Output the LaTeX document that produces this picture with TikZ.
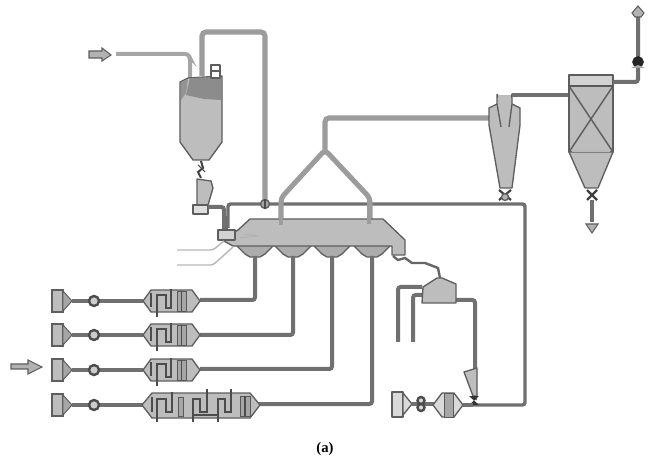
\documentclass[tikz,border=0pt]{standalone}
\usepackage{fontspec}
\setmainfont{Liberation Serif}
\definecolor{fillg}{HTML}{BDBDBD}
\definecolor{edgeg}{HTML}{5E5E5E}
\definecolor{pipeg}{HTML}{707070}
\definecolor{pipel}{HTML}{9C9C9C}
\tikzset{
  unit/.style={draw=edgeg,fill=fillg,line width=1pt,line join=round},
  pipe/.style={draw=pipeg,line width=3pt,rounded corners=2pt},
  pipethin/.style={draw=pipeg,line width=2.3pt,rounded corners=2pt},
  pipelight/.style={draw=pipel,line width=3.8pt,rounded corners=3pt},
  inlet/.style={draw=gray!55,line width=1.1pt,rounded corners=2pt},
  coil/.style={draw=black!70,line width=0.9pt},
  flowarrow/.style={draw=edgeg,fill=gray!60,line width=0.8pt},
}
\newcommand{\rowstart}[1]{%
  \fill[fillg,draw=edgeg,line width=1pt] (52,#1-11) rectangle (63,#1+11);
  \fill[gray!70,draw=edgeg,line width=0.7pt] (63,#1-10) -- (72,#1) -- (63,#1+10) -- cycle;
  \draw[pipethin] (72,#1) -- (143,#1);
  \draw[fill=gray!40,draw=black!70,line width=1.8pt] (94,#1) circle (5);
}
\newcommand{\cooler}[1]{%
  \draw[unit] (143,#1) -- (151,#1-11) -- (192,#1-11) -- (200,#1) -- (192,#1+11) -- (151,#1+11) -- cycle;
  \draw[coil] (151,#1-8) -- (151,#1+6);
  \draw[coil] (157,#1+16) -- (157,#1-6) -- (166,#1-6) -- (166,#1+7) -- (171,#1+7) -- (171,#1-12);
  \fill[gray!70,draw=black!65,line width=0.6pt] (177,#1-10) rectangle (186,#1+10);
  \draw[coil] (181.5,#1-10) -- (181.5,#1+10);
}
\begin{document}
\begin{tikzpicture}[x=0.75pt,y=-0.75pt]
\useasboundingbox (0,0) rectangle (650,470);
\fill[white] (0,0) rectangle (650,470);
\coordinate (feedend) at (116,54);
\coordinate (hopleft) at (190,78);
\coordinate (hopright) at (202,76);
\coordinate (header) at (265,204);
% top inlet
\draw[flowarrow] (89,51) -- (102,51) -- (102,48) -- (111,55) -- (102,61) -- (102,58) -- (89,58) -- cycle;
\draw[pipe,draw=gray!70] (feedend) -- (188,54) -- (190,58) -- (hopleft);
\draw[pipelight] (hopright) -- (202,32) -- (265,32) -- (header);
% hopper
\draw[unit] (180,82) -- (188,78) -- (222,76) -- (222,142) -- (209,160) -- (193,160) -- (180,142) -- cycle;
\fill[gray!90!white] (190,78) -- (221,77) -- (221,100) -- (204,99) -- (186,95) -- cycle;
\fill[gray!85!white] (181,82) -- (188,79) -- (186,93) -- (181,100) -- cycle;
\draw[unit,fill=white] (211,65) rectangle (220,78);
\draw[draw=edgeg,line width=0.8pt] (211,71) -- (220,71);
% hopper valve & feeder
\draw[black!75,line width=1.5pt] (201,161) -- (203,168) -- (198,172) -- (201,178);
\draw[black!70,line width=0.8pt] (198,165) -- (205,172);
\draw[unit] (197,179) -- (211,181) -- (213,188) -- (208,205) -- (197,205) -- cycle;
\draw[unit,fill=gray!25] (193,205) rectangle (208,214);
\draw[pipe] (208,207) -- (224,207) -- (224,231);
\draw[draw=black!60,line width=1.5pt] (227,231) -- (227,216);
% header line
\draw[pipe,line width=2.6pt] (228,228) -- (228,204) -- (525,204) -- (525,405) -- (473,405);
\draw[unit,fill=gray!70] (265,204) circle (4.5);
\draw[coil] (265,199) -- (265,209);
% Y duct
\draw[pipelight] (281,225) -- (281,198) -- (325,150) -- (370,198) -- (370,224);
\draw[pipelight] (325,150) -- (325,118) -- (492,118);
% furnace hoppers and pipes
\foreach \xx/\yy in {255/300,293/335,332/369,372/404}{
  \draw[unit,fill=gray!65] (\xx-19,245) -- (\xx+19,245) -- (\xx+10,254) -- (\xx+5,257) -- (\xx-5,257) -- (\xx-10,254) -- cycle;
  \draw[pipe] (\xx,256) -- (\xx,\yy) -- (200,\yy);
}
% furnace
\draw[unit] (250,219) -- (383,219) -- (405,240) -- (405,255) -- (392,255) -- (392,246) -- (233,246) -- (222,240) -- (238,230) -- cycle;
\draw[unit,fill=gray!35] (218,230) rectangle (235,240);
\draw[coil,draw=gray!60,line width=0.7pt] (240,238) -- (256,236);
\draw[coil,draw=gray!60,line width=0.7pt] (245,234) -- (258,236);
\draw[pipelight,line width=3pt] (281,198) -- (281,225);
\draw[pipelight,line width=3pt] (369,198) -- (369,224);
% side inlets
\draw[inlet] (177,250) -- (213,250) -- (224,241);
\draw[inlet] (177,265) -- (213,265) -- (233,247);
% discharge to separator
\draw[black!60,line width=1.8pt] (393,256) -- (398,260) -- (405,258) -- (412,263) -- (425,263) -- (438,268) -- (440,278);
\draw[pipe] (398,342) -- (398,287) -- (422,287);
\draw[pipe] (413,342) -- (413,295) -- (422,295);
\draw[pipe] (456,300) -- (475,300) -- (475,400);
\draw[unit] (423,287) -- (437,278) -- (442,278) -- (456,284) -- (456,303) -- (422,303) -- cycle;
% small cone and valve
\draw[unit] (464,372) -- (477,368) -- (477,396) -- (473,396) -- cycle;
\fill[black!80] (469,396) -- (479,405) -- (469,405) -- (479,396) -- cycle;
% bottom right machine
\draw[unit,fill=gray!30] (392,392) rectangle (403,417);
\draw[unit,fill=gray!30] (403,393) -- (412,404) -- (403,415) -- cycle;
\draw[pipethin] (412,404) -- (434,404);
\draw[fill=gray!30,draw=black!70,line width=1.8pt] (421,400.5) circle (3.5);
\draw[fill=gray!30,draw=black!70,line width=1.8pt] (421,407.5) circle (3.5);
\draw[unit,fill=gray!30] (433,405) -- (442,393) -- (454,393) -- (463,405) -- (454,417) -- (442,417) -- cycle;
\fill[gray!70,draw=black!65,line width=0.6pt] (444,393) rectangle (453,417);
\draw[pipethin] (463,405) -- (473,405);
% rows
\rowstart{301}\cooler{301}
\rowstart{335}\cooler{335}
\rowstart{370}\cooler{370}
\rowstart{405}
\draw[unit] (142,405) -- (152,393) -- (250,393) -- (260,405) -- (250,418) -- (152,418) -- cycle;
\draw[coil] (152,397) -- (152,412);
\draw[coil] (157,422) -- (157,399) -- (166,399) -- (166,412) -- (172,412) -- (172,392);
\fill[gray!70,draw=black!65,line width=0.5pt] (178,397) rectangle (183,416);
\draw[coil] (193,422) -- (193,399) -- (200,399) -- (200,412) -- (207,412) -- (207,389);
\draw[coil] (218,422) -- (218,399) -- (225,399) -- (225,412) -- (231,412) -- (231,389);
\fill[gray!70,draw=black!65,line width=0.5pt] (240,396) rectangle (250,416);
\draw[coil] (245,396) -- (245,416);
\draw[coil] (193,415) -- (218,415);
% left arrow
\draw[flowarrow] (11,364) -- (28,364) -- (28,360) -- (42,367) -- (28,374) -- (28,369) -- (11,369) -- cycle;
% cyclone
\draw[unit] (489,108) -- (497,104) -- (512,104) -- (520,108) -- (520,125) -- (512,188) -- (500,188) -- (489,125) -- cycle;
\draw[unit] (497,94) arc[start angle=180,end angle=0,x radius=7.5,y radius=6] -- (512,104) -- (509,127) (497,94) -- (497,104) -- (501,127);
\fill[fillg] (498,95) rectangle (511,106);
\draw[pipethin] (512,95) -- (570,95);
\draw[draw=black!75,line width=1.6pt] (499,190) -- (511,200) (511,190) -- (499,200);
\draw[unit,fill=gray!60] (505,197) circle (3.5);
% filter
\draw[unit,fill=gray!35] (569,75) rectangle (613,86);
\draw[unit] (569,86) rectangle (613,152);
\draw[draw=black!65,line width=1.3pt] (569,86) -- (613,86);
\draw[draw=edgeg,line width=1.1pt] (569,86) -- (613,152) (613,86) -- (569,152);
\draw[unit] (569,152) -- (613,152) -- (598,188) -- (585,188) -- cycle;
\draw[draw=gray!55,line width=1.4pt] (572,151) -- (610,151);
\draw[draw=black!75,line width=1.6pt] (587,190) -- (597,200) (597,190) -- (587,200);
\draw[pipethin] (592,200) -- (592,222);
\draw[flowarrow] (592,233) -- (586,224) -- (598,224) -- cycle;
% outlet
\draw[pipe] (613,82) -- (638,82) -- (638,16);
\draw[fill=black!85,draw=black!85] (638,62) circle (5.5);
\fill[gray!70] (638,65) -- (631,68) -- (645,68) -- cycle;
\draw[flowarrow] (638,6) -- (644,13) -- (641,17) -- (635,17) -- (632,13) -- cycle;
% caption
\node[font=\bfseries\fontsize{11pt}{13pt}\selectfont] (caption) at (325,449) {(a)};
\end{tikzpicture}
\end{document}
